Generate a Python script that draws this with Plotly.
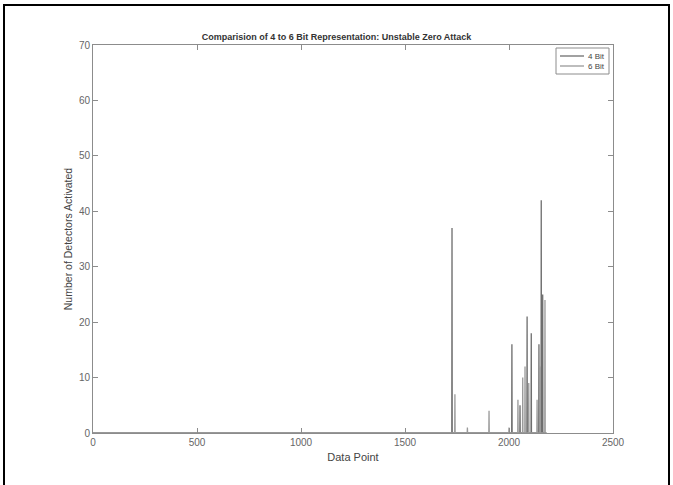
import plotly.graph_objects as go

# Spike data (data point index, detectors activated); zero elsewhere
x_end = 2180
bit4_pos = [1726, 2014, 2053, 2087, 2107, 2144, 2155, 2162]
bit4_val = [37, 16, 5, 21, 18, 16, 42, 25]
bit6_pos = [1740, 1800, 1904, 2000, 2043, 2066, 2077, 2095, 2135, 2150, 2173]
bit6_val = [7, 1, 4, 1, 6, 10, 12, 9, 6, 12, 24]
series_names = ["4 Bit", "6 Bit"]
series_colors = ["#6e6e6e", "#9a9a9a"]

def build(pos, val):
    xs, ys = [0], [0]
    for p, v in zip(pos, val):
        xs += [p - 1, p, p + 1]
        ys += [0, v, 0]
    xs.append(x_end)
    ys.append(0)
    return xs, ys

x4, y4 = build(bit4_pos, bit4_val)
x6, y6 = build(bit6_pos, bit6_val)

fig = go.Figure()
fig.add_trace(go.Scatter(x=x4, y=y4, mode="lines", name=series_names[0],
                         line=dict(color=series_colors[0], width=1.3)))
fig.add_trace(go.Scatter(x=x6, y=y6, mode="lines", name=series_names[1],
                         line=dict(color=series_colors[1], width=1.3)))

FONT = "Liberation Sans, Arial"
axis_common = dict(showline=True, linecolor="#8c8c8c", linewidth=1, mirror="ticks",
                   ticks="inside", ticklen=5, tickcolor="#8c8c8c", showgrid=False,
                   zeroline=False, tickfont=dict(size=10, color="#666666", family=FONT))
fig.update_xaxes(range=[0, 2500], tickvals=[0, 500, 1000, 1500, 2000, 2500],
                 title=dict(text="Data Point", font=dict(size=11, color="#444444", family=FONT),
                            standoff=6),
                 **axis_common)
fig.update_yaxes(range=[0, 70], tickvals=list(range(0, 71, 10)),
                 title=dict(text="Number of Detectors Activated",
                            font=dict(size=10.5, color="#444444", family=FONT),
                            standoff=4),
                 **axis_common)

fig.update_layout(
    width=673, height=485,
    margin=dict(l=93, r=60, t=45, b=52),
    paper_bgcolor="white", plot_bgcolor="white",
    title=dict(text="<b>Comparision of 4 to 6 Bit Representation: Unstable Zero Attack</b>",
               font=dict(size=9, color="#333333", family=FONT),
               x=0.5, xanchor="center", y=1 - 37 / 485, yanchor="middle"),
    showlegend=False,
)

# manual compact legend (pixel -> paper conversion)
def px(xp):
    return (xp - 93) / 520

def py(yp):
    return (433 - yp) / 388

fig.add_shape(type="rect", xref="paper", yref="paper",
              x0=px(556), x1=px(609), y0=py(74), y1=py(48),
              line=dict(color="#8c8c8c", width=1), fillcolor="white")
for i, (nm, col) in enumerate(zip(series_names, series_colors)):
    yl = 56 + i * 10
    fig.add_shape(type="line", xref="paper", yref="paper",
                  x0=px(560), x1=px(584), y0=py(yl), y1=py(yl),
                  line=dict(color=col, width=1.3))
    fig.add_annotation(xref="paper", yref="paper", x=px(607), y=py(yl),
                       xanchor="right", yanchor="middle", text=nm, showarrow=False,
                       font=dict(size=8, color="#444444", family=FONT))

# outer black frame
fig.add_shape(type="rect", xref="paper", yref="paper",
              x0=px(4), x1=px(669), y0=py(600), y1=py(5),
              line=dict(color="black", width=2))

fig.write_html("out.html")
